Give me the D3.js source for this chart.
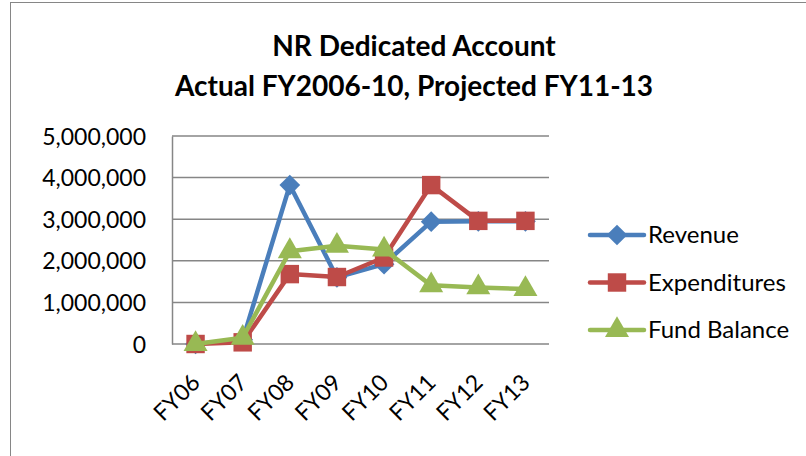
<!DOCTYPE html>
<html>
<head>
<meta charset="utf-8">
<script src="https://cdnjs.cloudflare.com/ajax/libs/d3/7.8.5/d3.min.js"></script>
<style>
  body { margin: 0; background: #fff; }
  svg text { font-family: Lato, "Open Sans", sans-serif; fill: #000; }
</style>
</head>
<body>
<div id="chart"></div>
<script>
"use strict";
// data
var categories = ["FY06", "FY07", "FY08", "FY09", "FY10", "FY11", "FY12", "FY13"];
var revenue = [0, 100000, 3820000, 1600000, 1920000, 2940000, 2950000, 2950000];
var expenditures = [0, 40000, 1680000, 1610000, 2080000, 3820000, 2960000, 2960000];
var fundBalance = [0, 150000, 2230000, 2360000, 2270000, 1410000, 1360000, 1320000];
var yTicks = [0, 1000000, 2000000, 3000000, 4000000, 5000000];
var seriesNames = ["Revenue", "Expenditures", "Fund Balance"];
var seriesColors = ["#4a7ebb", "#be4b48", "#98b954"];
var seriesSymbols = ["diamond", "square", "triangle"];

(function() {
  var width = 806, height = 456;
  var margin = {top: 136, left: 172, right: 257, bottom: 112};
  var plotW = width - margin.left - margin.right;
  var plotH = height - margin.top - margin.bottom;
  var series = [revenue, expenditures, fundBalance];

  var svg = d3.select("#chart").append("svg")
    .attr("width", width).attr("height", height);

  // chart frame
  svg.append("rect")
    .attr("x", 10.5).attr("y", 2.5)
    .attr("width", width + 10).attr("height", height + 10)
    .attr("fill", "#fff").attr("stroke", "#868686").attr("stroke-width", 1);

  // title
  svg.append("text").attr("x", 414).attr("y", 56)
    .attr("text-anchor", "middle").attr("font-size", 28).attr("font-weight", "bold")
    .text("NR Dedicated Account");
  svg.append("text").attr("x", 414).attr("y", 96)
    .attr("text-anchor", "middle").attr("font-size", 28).attr("font-weight", "bold")
    .text("Actual FY2006-10, Projected FY11-13");

  var x = d3.scaleBand().domain(categories).range([0, plotW]);
  var y = d3.scaleLinear().domain([0, 5000000]).range([plotH, 0]);

  var g = svg.append("g")
    .attr("transform", "translate(" + margin.left + "," + margin.top + ")");

  // gridlines
  g.selectAll(".grid").data(yTicks).enter().append("line")
    .attr("class", "grid")
    .attr("x1", 0).attr("x2", plotW)
    .attr("y1", function(d) { return y(d); }).attr("y2", function(d) { return y(d); })
    .attr("stroke", "#868686").attr("stroke-width", 1.5);

  // y axis
  var yAxis = g.append("g")
    .call(d3.axisLeft(y).tickValues(yTicks).tickSize(0).tickPadding(26)
      .tickFormat(d3.format(",")));
  yAxis.select(".domain").attr("stroke", "#868686").attr("stroke-width", 1.5);
  yAxis.selectAll("text").attr("font-size", 23).attr("dy", "0.35em");
  yAxis.selectAll(".tick line").remove();

  // x labels
  g.selectAll(".xlab").data(categories).enter().append("text")
    .attr("class", "xlab")
    .attr("text-anchor", "end")
    .attr("font-size", 23)
    .attr("transform", function(d) {
      return "translate(" + (x(d) + x.bandwidth() / 2 + 6) + "," + (plotH + 40) + ") rotate(-45)";
    })
    .text(function(d) { return d; });

  var line = d3.line()
    .x(function(d, i) { return x(categories[i]) + x.bandwidth() / 2; })
    .y(function(d) { return y(d); });

  // markers: diamond is a square turned 45 degrees
  var symbolTypes = {diamond: d3.symbolSquare, square: d3.symbolSquare, triangle: d3.symbolTriangle};
  var symbolSizes = {diamond: 215, square: 340, triangle: 250};
  var symbolTurn = {diamond: 45, square: 0, triangle: 0};

  series.forEach(function(vals, s) {
    var sym = seriesSymbols[s];
    g.append("path").datum(vals)
      .attr("d", line)
      .attr("fill", "none")
      .attr("stroke", seriesColors[s])
      .attr("stroke-width", 4.5)
      .attr("stroke-linejoin", "round");
    g.selectAll(".pt" + s).data(vals).enter().append("path")
      .attr("class", "pt" + s)
      .attr("transform", function(d, i) {
        return "translate(" + (x(categories[i]) + x.bandwidth() / 2) + "," + y(d) + ") rotate(" + symbolTurn[sym] + ")";
      })
      .attr("d", d3.symbol().type(symbolTypes[sym]).size(symbolSizes[sym]))
      .attr("fill", seriesColors[s]);
  });

  // legend
  var legend = svg.append("g").attr("transform", "translate(590,235)");
  seriesNames.forEach(function(name, s) {
    var sym = seriesSymbols[s];
    var row = legend.append("g").attr("transform", "translate(0," + (s * 47.5) + ")");
    row.append("line").attr("x1", 0).attr("x2", 54).attr("y1", 0).attr("y2", 0)
      .attr("stroke", seriesColors[s]).attr("stroke-width", 4.5).attr("stroke-linecap", "round");
    row.append("path").attr("transform", "translate(27,0) rotate(" + symbolTurn[sym] + ")")
      .attr("d", d3.symbol().type(symbolTypes[sym]).size(symbolSizes[sym]))
      .attr("fill", seriesColors[s]);
    row.append("text").attr("x", 58).attr("y", 0).attr("dy", "0.35em")
      .attr("font-size", 24).text(name);
  });
})();
</script>
</body>
</html>
